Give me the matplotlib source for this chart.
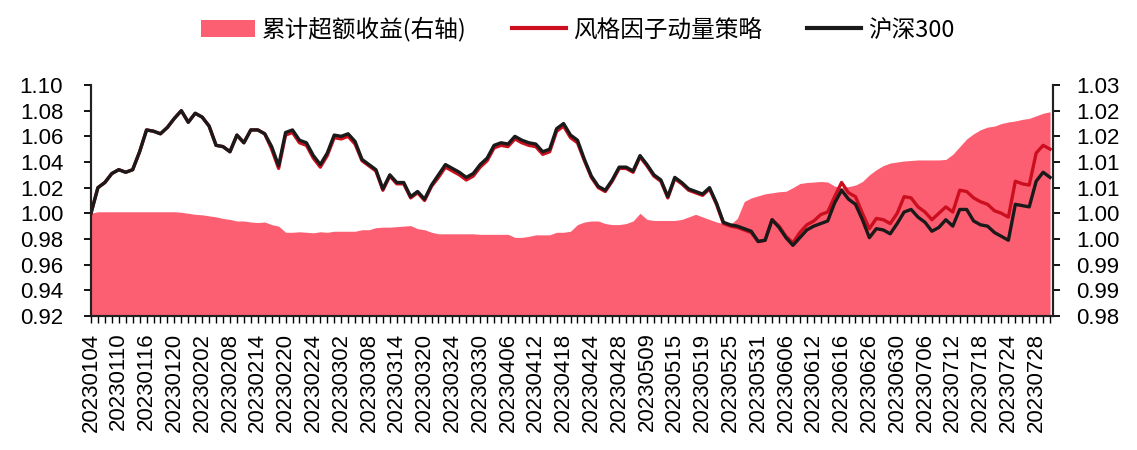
import numpy as np
import pandas as pd
import matplotlib
matplotlib.use("Agg")
import matplotlib.pyplot as plt
from matplotlib.patches import Patch
from matplotlib.lines import Line2D

# trading days 20230104 - 20230801 (weekdays without exchange holidays)
holidays = ["2023-01-23", "2023-01-24", "2023-01-25", "2023-01-26", "2023-01-27",
            "2023-04-05", "2023-05-01", "2023-05-02", "2023-05-03",
            "2023-06-22", "2023-06-23"]
days = pd.bdate_range("2023-01-04", "2023-08-01")
days = days[~days.isin(pd.to_datetime(holidays))]
dates = [d.strftime("%Y%m%d") for d in days]

hs300 = [1.000, 1.020, 1.024, 1.031, 1.034, 1.032, 1.034, 1.048, 1.065, 1.064,
         1.062, 1.067, 1.074, 1.080, 1.071, 1.078, 1.075, 1.068, 1.053, 1.052,
         1.048, 1.061, 1.055, 1.065, 1.065, 1.062, 1.052, 1.037, 1.063, 1.065,
         1.057, 1.055, 1.045, 1.038, 1.047, 1.061, 1.060, 1.062, 1.056, 1.042,
         1.038, 1.034, 1.019, 1.030, 1.024, 1.024, 1.013, 1.017, 1.011, 1.022,
         1.030, 1.038, 1.035, 1.032, 1.028, 1.031, 1.038, 1.043, 1.053, 1.055,
         1.054, 1.060, 1.057, 1.055, 1.054, 1.048, 1.050, 1.066, 1.070, 1.061,
         1.057, 1.042, 1.029, 1.021, 1.018, 1.026, 1.036, 1.036, 1.033, 1.045,
         1.038, 1.030, 1.026, 1.013, 1.028, 1.024, 1.019, 1.017, 1.015, 1.020,
         1.008, 0.993, 0.991, 0.990, 0.988, 0.986, 0.978, 0.979, 0.995, 0.989,
         0.981, 0.975, 0.981, 0.987, 0.990, 0.992, 0.994, 1.008, 1.018, 1.011,
         1.007, 0.995, 0.981, 0.988, 0.987, 0.984, 0.992, 1.001, 1.003, 0.997,
         0.993, 0.986, 0.989, 0.995, 0.990, 1.003, 1.003, 0.994, 0.991, 0.990,
         0.985, 0.982, 0.979, 1.007, 1.006, 1.005, 1.025, 1.032, 1.028]

strategy = [1.000, 1.020, 1.024, 1.031, 1.034, 1.032, 1.034, 1.048, 1.065, 1.064,
            1.062, 1.067, 1.074, 1.080, 1.071, 1.078, 1.075, 1.068, 1.053, 1.052,
            1.048, 1.061, 1.055, 1.065, 1.065, 1.062, 1.050, 1.035, 1.061, 1.063,
            1.055, 1.053, 1.043, 1.036, 1.045, 1.059, 1.058, 1.060, 1.054, 1.041,
            1.037, 1.033, 1.018, 1.029, 1.023, 1.023, 1.012, 1.016, 1.010, 1.021,
            1.028, 1.036, 1.033, 1.030, 1.026, 1.029, 1.036, 1.041, 1.051, 1.053,
            1.052, 1.058, 1.055, 1.053, 1.052, 1.046, 1.048, 1.064, 1.068, 1.059,
            1.055, 1.041, 1.028, 1.020, 1.017, 1.025, 1.035, 1.035, 1.032, 1.044,
            1.037, 1.029, 1.025, 1.012, 1.027, 1.023, 1.018, 1.016, 1.014, 1.019,
            1.007, 0.992, 0.990, 0.989, 0.987, 0.985, 0.978, 0.979, 0.995, 0.990,
            0.982, 0.977, 0.985, 0.991, 0.994, 0.999, 1.001, 1.013, 1.024, 1.016,
            1.013, 1.000, 0.988, 0.996, 0.995, 0.992, 1.000, 1.013, 1.012, 1.005,
            1.001, 0.995, 1.000, 1.005, 1.001, 1.018, 1.017, 1.012, 1.009, 1.007,
            1.002, 1.000, 0.997, 1.025, 1.023, 1.022, 1.047, 1.053, 1.050]

excess = [1.0000, 1.0003, 1.0003, 1.0003, 1.0003, 1.0003, 1.0003, 1.0003, 1.0003, 1.0003,
          1.0003, 1.0003, 1.0003, 1.0002, 1.0000, 0.9998, 0.9997, 0.9995, 0.9993, 0.9990,
          0.9988, 0.9985, 0.9985, 0.9983, 0.9982, 0.9983, 0.9978, 0.9975, 0.9963, 0.9963,
          0.9964, 0.9963, 0.9962, 0.9964, 0.9963, 0.9965, 0.9965, 0.9965, 0.9965, 0.9968,
          0.9968, 0.9972, 0.9973, 0.9973, 0.9974, 0.9975, 0.9976, 0.9970, 0.9968, 0.9963,
          0.9960, 0.9960, 0.9960, 0.9960, 0.9960, 0.9960, 0.9959, 0.9959, 0.9959, 0.9959,
          0.9959, 0.9953, 0.9953, 0.9955, 0.9958, 0.9958, 0.9958, 0.9963, 0.9963, 0.9965,
          0.9978, 0.9983, 0.9985, 0.9985, 0.9980, 0.9978, 0.9978, 0.9980, 0.9985, 1.0000,
          0.9988, 0.9986, 0.9986, 0.9986, 0.9986, 0.9988, 0.9993, 0.9998, 0.9993, 0.9988,
          0.9983, 0.9980, 0.9978, 0.9990, 1.0023, 1.0030, 1.0034, 1.0038, 1.0040, 1.0042,
          1.0043, 1.0050, 1.0058, 1.0060, 1.0061, 1.0062, 1.0061, 1.0053, 1.0050, 1.0052,
          1.0055, 1.0062, 1.0075, 1.0085, 1.0093, 1.0098, 1.0100, 1.0102, 1.0103, 1.0104,
          1.0104, 1.0104, 1.0104, 1.0105, 1.0115, 1.0130, 1.0145, 1.0155, 1.0163, 1.0168,
          1.0170, 1.0175, 1.0178, 1.0180, 1.0183, 1.0185, 1.0190, 1.0195, 1.0198]

left_ticks = [0.92, 0.94, 0.96, 0.98, 1.00, 1.02, 1.04, 1.06, 1.08, 1.10]
right_ticks = [0.98, 0.985, 0.99, 0.995, 1.00, 1.005, 1.01, 1.015, 1.02, 1.025]
right_labels = ["0.98", "0.99", "0.99", "1.00", "1.00", "1.01", "1.01", "1.02", "1.02", "1.03"]

plt.rcParams['font.family'] = ['Liberation Sans', 'Noto Sans CJK SC', 'DejaVu Sans']

area_color = '#FD5F72'
red_color = '#CC0F1F'
black_color = '#1A1A1A'

x = np.arange(len(dates))

fig = plt.figure(figsize=(11.37, 4.5), dpi=100)
ax = fig.add_axes([0.080, 0.298, 0.846, 0.513])
ax2 = ax.twinx()
# keep the area (right axis) behind the lines
ax.set_zorder(ax2.get_zorder() + 1)
ax.patch.set_visible(False)

ax2.fill_between(x, 0.98, excess, color=area_color, linewidth=0)
ax.plot(x, strategy, color=red_color, lw=2.4, solid_joinstyle='round')
ax.plot(x, hs300, color=black_color, lw=2.4, solid_joinstyle='round')

ax.set_xlim(0, len(dates) - 0.6)
ax.set_ylim(0.92, 1.10)
ax2.set_ylim(0.98, 1.025)

ax.set_yticks(left_ticks)
ax.set_yticklabels([f"{v:.2f}" for v in left_ticks])
ax2.set_yticks(right_ticks)
ax2.set_yticklabels(right_labels)

ax.set_xticks(x)
ax.set_xticklabels([d if i % 4 == 0 else "" for i, d in enumerate(dates)], rotation=90)

for a in (ax, ax2):
    a.spines['top'].set_visible(False)
    for s in ('left', 'right', 'bottom'):
        a.spines[s].set_linewidth(1.5)
        a.spines[s].set_color('#222222')

ax.tick_params(axis='y', direction='out', length=5, width=1.3, labelsize=16, pad=15)
ax2.tick_params(axis='y', direction='out', length=5, width=1.3, labelsize=16, pad=12)
ax.tick_params(axis='x', direction='out', length=5, width=1.0, labelsize=16, pad=7)

handles = [Patch(facecolor=area_color, edgecolor='none'),
           Line2D([], [], color=red_color, lw=3),
           Line2D([], [], color=black_color, lw=3)]
labels = ["累计超额收益(右轴)", "风格因子动量策略", "沪深300"]
fig.legend(handles, labels, loc='center', bbox_to_anchor=(0.508, 0.935), ncol=3,
           frameon=False, handlelength=2.3, handletextpad=0.3, columnspacing=1.9,
           prop={'family': ['Noto Sans CJK SC', 'DejaVu Sans'], 'size': 17})

fig.savefig("out.png", dpi=100)
